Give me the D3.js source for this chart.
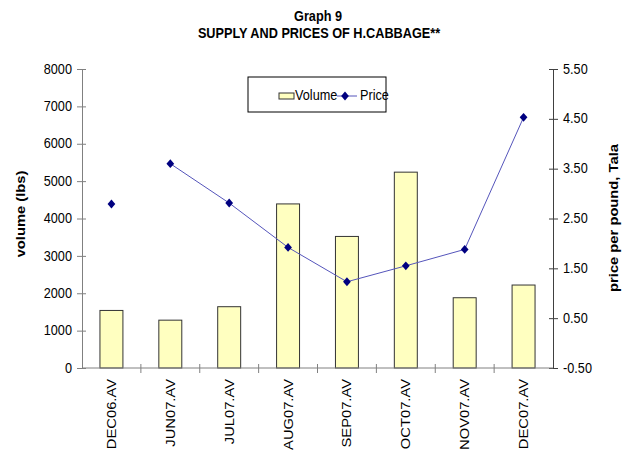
<!DOCTYPE html>
<html>
<head>
<meta charset="utf-8">
<script src="https://cdn.jsdelivr.net/npm/d3@7"></script>
<style>
  body { margin: 0; background: #fff; }
  text { font-family: "Liberation Sans", Arial, sans-serif; }
</style>
</head>
<body>
<div id="chart"></div>
<script>
const months = ["DEC06.AV", "JUN07.AV", "JUL07.AV", "AUG07.AV", "SEP07.AV", "OCT07.AV", "NOV07.AV", "DEC07.AV"]
const volume = [1540, 1280, 1640, 4390, 3520, 5240, 1880, 2220]
const price = [2.79, 3.60, 2.81, 1.92, 1.23, 1.55, 1.88, 4.53]
// the price line is not drawn between DEC06 and JUN07
const priceLinked = [false, true, true, true, true, true, true, true]
const volTicks = [0, 1000, 2000, 3000, 4000, 5000, 6000, 7000, 8000]
const priceTicks = [-0.5, 0.5, 1.5, 2.5, 3.5, 4.5, 5.5]

const width = 626, height = 455
const m = { left: 82, right: 73, top: 69, bottom: 87 }
const fs = 12.7     // font size
const sy = 1.16     // the text looks stretched vertically

const svg = d3.select("#chart").append("svg")
    .attr("width", width)
    .attr("height", height)

const x = d3.scaleBand()
    .domain(months)
    .range([m.left, width - m.right])
    .paddingInner(0.61)
    .paddingOuter(0.305)

const yVol = d3.scaleLinear().domain([0, 8000]).range([height - m.bottom, m.top])
const yPrice = d3.scaleLinear().domain([-0.5, 5.5]).range([height - m.bottom, m.top])

// horizontal text, stretched
function hText(tx, ty, str, bold) {
    return svg.append("text")
        .attr("transform", `translate(${tx},${ty}) scale(1,${sy})`)
        .attr("text-anchor", "middle")
        .attr("font-size", fs)
        .attr("font-weight", bold ? "bold" : null)
        .text(str)
}
// vertical text, reading bottom to top
function vText(tx, ty, str, bold) {
    return svg.append("text")
        .attr("transform", `translate(${tx},${ty}) rotate(-90) scale(${sy},1)`)
        .attr("text-anchor", "middle")
        .attr("font-size", fs)
        .attr("font-weight", bold ? "bold" : null)
        .text(str)
}

// titles
hText(318, 21, "Graph 9", true)
hText(319, 38, "SUPPLY AND PRICES OF H.CABBAGE**", true)

// bars
svg.selectAll(".bar")
    .data(months)
    .join("rect")
    .attr("class", "bar")
    .attr("x", d => x(d))
    .attr("width", x.bandwidth())
    .attr("y", (d, i) => yVol(volume[i]))
    .attr("height", (d, i) => yVol(0) - yVol(volume[i]))
    .attr("fill", "#ffffc0")
    .attr("stroke", "#333")
    .attr("stroke-width", 1)

// left axis
const leftAxis = svg.append("g")
    .attr("transform", `translate(${m.left},0)`)
    .call(d3.axisLeft(yVol).tickValues(volTicks).tickSize(5).tickPadding(5).tickFormat(d => String(d)))
leftAxis.select(".domain").attr("stroke", "#808080")
leftAxis.selectAll(".tick line").attr("stroke", "#808080").attr("x2", -5).attr("x1", 4)
leftAxis.selectAll(".tick text")
    .attr("font-size", fs).attr("fill", "#000")
    .attr("font-family", "Liberation Sans, Arial, sans-serif")
    .attr("dy", "0.28em")
    .attr("transform", `scale(1,${sy})`)

// right axis
const rightAxis = svg.append("g")
    .attr("transform", `translate(${width - m.right},0)`)
    .call(d3.axisRight(yPrice).tickValues(priceTicks).tickSize(5).tickPadding(5).tickFormat(d => d.toFixed(2)))
rightAxis.select(".domain").attr("stroke", "#404040")
rightAxis.selectAll(".tick line").attr("stroke", "#404040").attr("x1", -4)
rightAxis.selectAll(".tick text")
    .attr("font-size", fs).attr("fill", "#000")
    .attr("font-family", "Liberation Sans, Arial, sans-serif")
    .attr("dy", "0.28em")
    .attr("transform", `scale(1,${sy})`)

// bottom axis
const step = x.step()
const catTicks = d3.range(months.length + 1).map(i => m.left + i * step)
svg.append("line")
    .attr("x1", m.left).attr("x2", width - m.right)
    .attr("y1", yVol(0)).attr("y2", yVol(0))
    .attr("stroke", "#808080")
svg.selectAll(".cat-tick")
    .data(catTicks.slice(1, -1))
    .join("line")
    .attr("class", "cat-tick")
    .attr("x1", d => d).attr("x2", d => d)
    .attr("y1", yVol(0) - 4).attr("y2", yVol(0) + 5)
    .attr("stroke", "#808080")
svg.selectAll(".cat-label")
    .data(months)
    .join("text")
    .attr("class", "cat-label")
    .attr("transform", d => `translate(${x(d) + x.bandwidth() / 2 + 4.5},${yVol(0) + 11}) rotate(-90) scale(${sy},1)`)
    .attr("text-anchor", "end")
    .attr("font-size", fs)
    .text(d => d)

// axis titles
vText(25, 214, "volume (lbs)", true)
vText(618, 218, "price per pound, Tala", true)

// price line
const cx = d => x(d) + x.bandwidth() / 2
const line = d3.line()
    .defined((d, i) => priceLinked[i])
    .x(d => cx(d))
    .y((d, i) => yPrice(price[i]))
svg.append("path")
    .datum(months)
    .attr("d", line)
    .attr("fill", "none")
    .attr("stroke", "#5555bb")
    .attr("stroke-width", 1)

const diamond = d3.symbol().type(d3.symbolDiamond2).size(38)
svg.selectAll(".marker")
    .data(months)
    .join("path")
    .attr("class", "marker")
    .attr("transform", (d, i) => `translate(${cx(d)},${yPrice(price[i])}) scale(1,1.15)`)
    .attr("d", diamond)
    .attr("fill", "#000080")

// legend
const lg = svg.append("g").attr("transform", "translate(248,77)")
lg.append("rect")
    .attr("width", 138).attr("height", 35)
    .attr("fill", "#fff").attr("stroke", "#000")
lg.append("rect")
    .attr("x", 31).attr("y", 16).attr("width", 15).attr("height", 6)
    .attr("fill", "#ffffc0").attr("stroke", "#333")
lg.append("text")
    .attr("transform", `translate(47,23) scale(1,${sy})`)
    .attr("font-size", fs)
    .text("Volume")
lg.append("line")
    .attr("x1", 89).attr("x2", 109)
    .attr("y1", 19).attr("y2", 19)
    .attr("stroke", "#5555bb")
lg.append("path")
    .attr("transform", "translate(97,19) scale(1,1.15)")
    .attr("d", diamond)
    .attr("fill", "#000080")
lg.append("text")
    .attr("transform", `translate(112,23) scale(1,${sy})`)
    .attr("font-size", fs)
    .text("Price")
</script>
</body>
</html>
